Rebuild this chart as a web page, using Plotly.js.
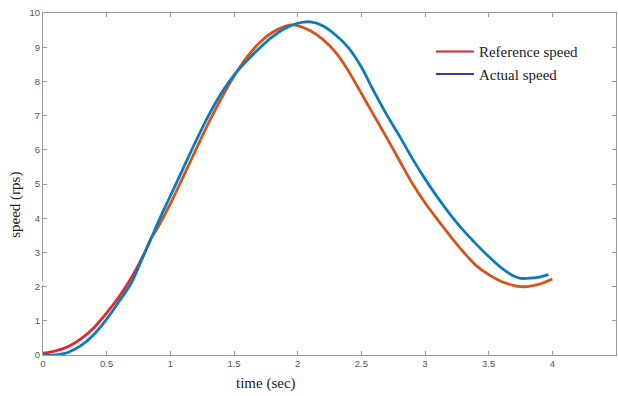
<!DOCTYPE html>
<html>
<head>
<meta charset="utf-8">
<script src="https://cdn.plot.ly/plotly-3.0.1.min.js"></script>
<style>html,body{margin:0;padding:0;background:#fff;}#chart{width:618px;height:396px;}</style>
</head>
<body>
<div id="chart"></div>
<script>
// Reference speed (early part drawn red, rest orange)
var refTimeA = [0, 0.1, 0.2, 0.3, 0.4, 0.5, 0.6, 0.7, 0.8, 0.85];
var refSpeedA = [0.05, 0.12, 0.25, 0.48, 0.8, 1.23, 1.72, 2.3, 3.0, 3.42];
var refTimeB = [0.85, 0.9, 1.0, 1.1, 1.2, 1.3, 1.4, 1.5, 1.6, 1.7, 1.8, 1.9, 1.95, 2.0, 2.1, 2.2, 2.3, 2.4, 2.5, 2.6, 2.7, 2.8, 2.9, 3.0, 3.1, 3.2, 3.3, 3.4, 3.5, 3.6, 3.7, 3.75, 3.8, 3.9, 4.0];
var refSpeedB = [3.42, 3.72, 4.42, 5.2, 6.0, 6.78, 7.5, 8.15, 8.7, 9.13, 9.43, 9.61, 9.65, 9.63, 9.48, 9.22, 8.84, 8.3, 7.65, 7.0, 6.35, 5.68, 5.02, 4.45, 3.95, 3.47, 3.02, 2.62, 2.35, 2.15, 2.03, 2.0, 2.0, 2.07, 2.22];
// Actual speed
var actTime = [0, 0.1, 0.15, 0.2, 0.3, 0.4, 0.5, 0.6, 0.7, 0.8, 0.86, 0.9, 1.0, 1.1, 1.2, 1.3, 1.4, 1.5, 1.6, 1.7, 1.8, 1.9, 2.0, 2.1, 2.2, 2.3, 2.4, 2.5, 2.6, 2.7, 2.8, 2.9, 3.0, 3.1, 3.2, 3.3, 3.4, 3.5, 3.6, 3.7, 3.75, 3.8, 3.9, 3.97];
var actSpeed = [0, 0.0, 0.03, 0.08, 0.28, 0.6, 1.05, 1.58, 2.15, 3.0, 3.5, 3.85, 4.65, 5.45, 6.25, 7.0, 7.65, 8.18, 8.6, 8.97, 9.3, 9.55, 9.7, 9.74, 9.62, 9.35, 8.98, 8.42, 7.7, 7.02, 6.4, 5.75, 5.15, 4.6, 4.1, 3.65, 3.25, 2.88, 2.55, 2.3, 2.24, 2.24, 2.28, 2.35];
var xTicks = [0, 0.5, 1, 1.5, 2, 2.5, 3, 3.5, 4, 4.5];
var yTicks = [0, 1, 2, 3, 4, 5, 6, 7, 8, 9, 10];

var traces = [
  {x: refTimeA, y: refSpeedA, mode: 'lines', line: {color: '#e5262b', width: 2.8, shape: 'spline', smoothing: 0.8}, showlegend: false},
  {x: refTimeB, y: refSpeedB, mode: 'lines', line: {color: '#d95319', width: 2.8, shape: 'spline', smoothing: 0.8}, showlegend: false},
  {x: actTime, y: actSpeed, mode: 'lines', line: {color: '#0a7bbd', width: 2.8, shape: 'spline', smoothing: 0.8}, showlegend: false},
  {x: [null], y: [null], mode: 'lines', name: 'Reference speed', line: {color: '#e0202a', width: 2}},
  {x: [null], y: [null], mode: 'lines', name: 'Actual speed', line: {color: '#2a3bc0', width: 2}}
];

var axisCommon = {
  showgrid: false, zeroline: false, showline: true, linecolor: '#9a9a9a', linewidth: 1,
  mirror: 'ticks', ticks: 'inside', ticklen: 4, tickcolor: '#9a9a9a',
  tickfont: {family: 'Liberation Sans, Arial, sans-serif', size: 9.5, color: '#555'}
};

var layout = {
  width: 618, height: 396,
  margin: {l: 43, r: 2, t: 13, b: 41},
  paper_bgcolor: '#fff', plot_bgcolor: '#fff',
  xaxis: Object.assign({}, axisCommon, {range: [0, 4.5], tickvals: xTicks, ticktext: xTicks.map(String)}),
  yaxis: Object.assign({}, axisCommon, {range: [0, 10], tickvals: yTicks, ticktext: yTicks.map(String)}),
  legend: {x: 0.677, y: 0.935, xanchor: 'left', yanchor: 'top', bgcolor: 'rgba(0,0,0,0)',
           font: {family: 'Liberation Serif, Times New Roman, serif', size: 15, color: '#222'},
           itemwidth: 38, tracegroupgap: 0},
  annotations: [
    {text: 'time (sec)', xref: 'paper', yref: 'paper', x: 0.39, y: -0.082, xanchor: 'center', yanchor: 'middle', showarrow: false,
     font: {family: 'Liberation Serif, Times New Roman, serif', size: 15, color: '#222'}},
    {text: 'speed (rps)', xref: 'paper', yref: 'paper', x: -0.03, y: 0.44, xanchor: 'right', yanchor: 'middle', textangle: -90, showarrow: false,
     font: {family: 'Liberation Serif, Times New Roman, serif', size: 15, color: '#222'}}
  ],
  shapes: [
    {type: 'rect', xref: 'paper', yref: 'y', x0: -0.004, x1: 0.004, y0: 2.06, y1: 2.14, fillcolor: '#fff', line: {width: 0}, layer: 'above'}
  ]
};

Plotly.newPlot('chart', traces, layout, {displayModeBar: false, staticPlot: true});
</script>
</body>
</html>
